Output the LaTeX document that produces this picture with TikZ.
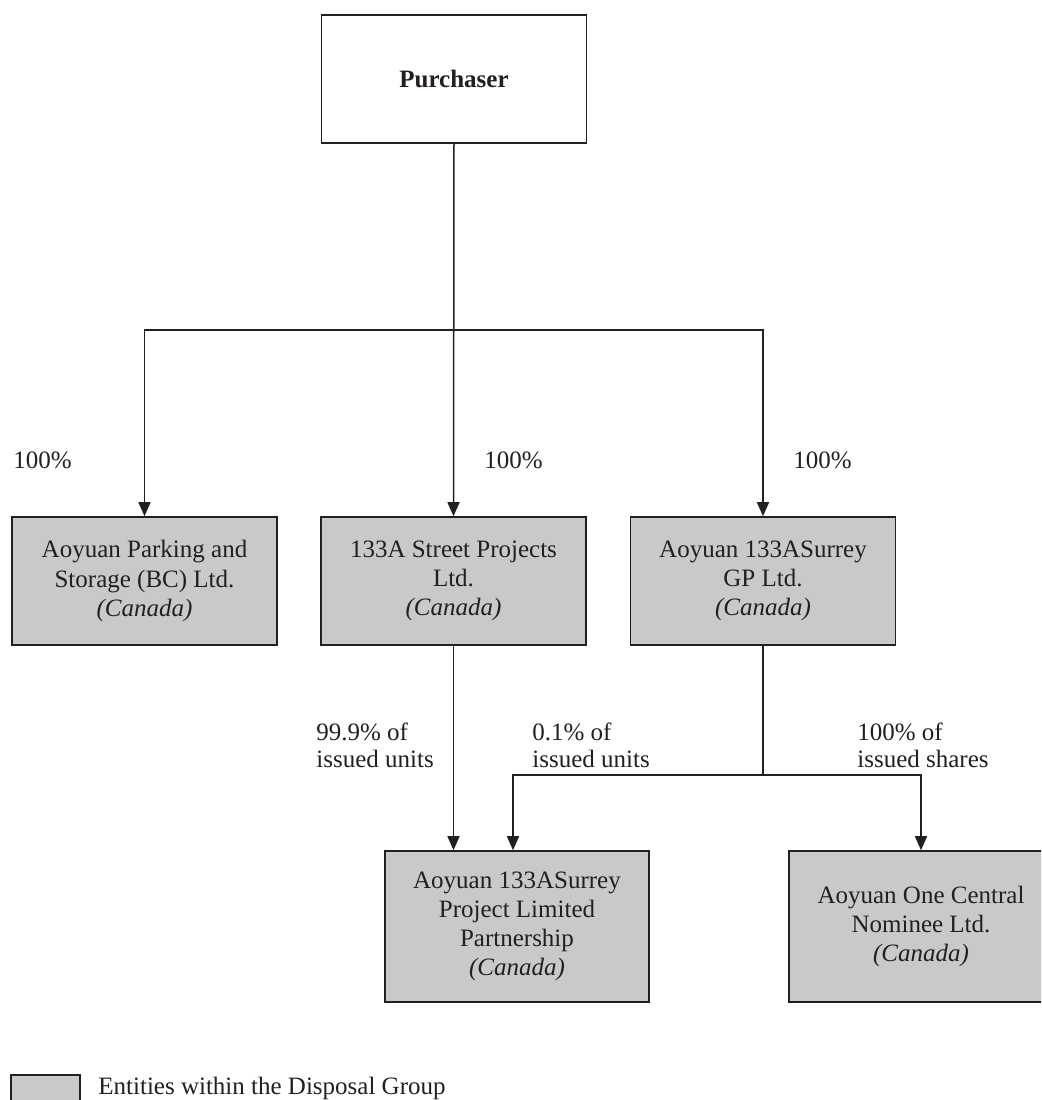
\documentclass[tikz,border=0pt]{standalone}
\usepackage{fontspec}
\setmainfont{Liberation Serif}
\usepackage{xcolor}
\usetikzlibrary{arrows.meta}

\definecolor{ink}{HTML}{231F20}
\definecolor{entityfill}{HTML}{C8C9CB}

\tikzset{
    entity/.style={draw=ink, line width=0.8pt, fill=entityfill, align=center,
        minimum width=132.5pt, minimum height=64pt, inner sep=2pt,
        font=\fontsize{12.5}{14.6}\selectfont, text=ink},
    holder/.style={entity, fill=white},
    share/.style={font=\fontsize{12.5}{13.6}\selectfont, text=ink, align=left, inner sep=0pt},
    link/.style={draw=ink, line width=0.75pt},
    arr/.style={link, -{Triangle[width=6pt,length=7pt]}}
}

\begin{document}
\begin{tikzpicture}[x=0.5pt, y=-0.5pt]
    \useasboundingbox (0,0) rectangle (1041,1100);
    \clip (0,0) rectangle (1041,1100);

    % Top level
    \node[holder] (pur) at (454, 79) {\textbf{Purchaser}};
    \coordinate (split) at (454, 330);

    % Subsidiaries
    \node[entity] (park) at (144.5, 581) {Aoyuan Parking and\\Storage (BC) Ltd.\\\textit{(Canada)}};
    \node[entity] (street) at (453.5, 581) {133A Street Projects\\Ltd.\\\textit{(Canada)}};
    \node[entity] (gp) at (763, 581) {Aoyuan 133ASurrey\\GP Ltd.\\\textit{(Canada)}};

    % Second level
    \node[entity, minimum width=132pt, minimum height=75.5pt] (lp) at (517, 926.5)
        {Aoyuan 133ASurrey\\Project Limited\\Partnership\\\textit{(Canada)}};
    \node[entity, minimum width=132pt, minimum height=75.5pt] (nom) at (921, 926.5)
        {Aoyuan One Central\\Nominee Ltd.\\\textit{(Canada)}};
    \coordinate (fork) at (763, 775);

    % Connectors
    \draw[arr] (pur.south) -- (street.north);
    \draw[arr] (split) -| (park.north);
    \draw[arr] (split) -| (gp.north);
    \draw[arr] (street.south) -- (street.south |- lp.north);
    \draw[link] (gp.south) -- (fork);
    \draw[arr] (fork) -| ([xshift=-2]lp.north);
    \draw[arr] (fork) -| (nom.north);

    % Holdings
    \node[share, anchor=west] (p1) at (13, 460) {100\%};
    \node[share, anchor=west] (p2) at (484, 460) {100\%};
    \node[share, anchor=west] (p3) at (793, 460) {100\%};
    \node[share, anchor=west] (u1) at (316, 745) {99.9\% of\\issued units};
    \node[share, anchor=west] (u2) at (532, 745) {0.1\% of\\issued units};
    \node[share, anchor=west] (s1) at (857, 745) {100\% of\\issued shares};

    % Legend
    \node[entity, minimum width=34.5pt, minimum height=16pt] (key) at (45.5, 1091) {};
    \node[share, anchor=west] (keytext) at (98, 1088) {Entities within the Disposal Group};
\end{tikzpicture}
\end{document}
